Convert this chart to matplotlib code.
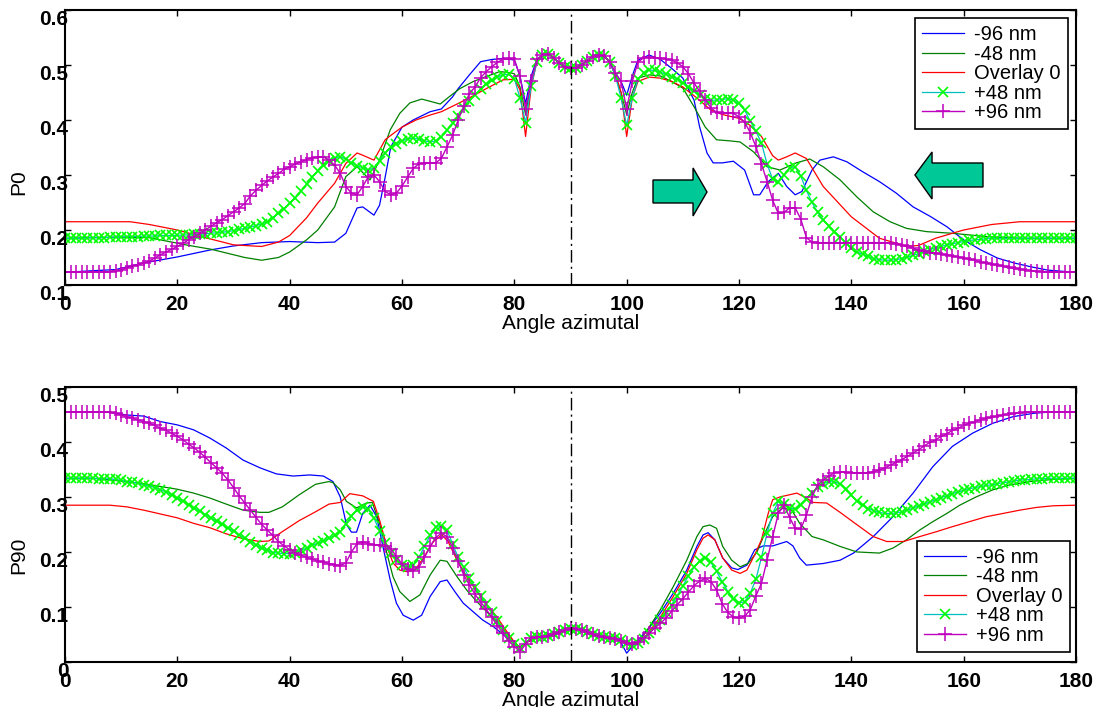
import matplotlib
matplotlib.use('Agg')
import matplotlib.pyplot as plt
from matplotlib.patches import Polygon

plt.rcParams['font.family'] = ['Liberation Sans', 'DejaVu Sans']

# ---------------- data ----------------
LABELS = ['-96 nm', '-48 nm', 'Overlay 0', '+48 nm', '+96 nm']
X_TICKS = [0, 20, 40, 60, 80, 100, 120, 140, 160, 180]
TOP_YTICKS = [0.1, 0.2, 0.3, 0.4, 0.5, 0.6]
TOP_YLABELS = ['0.1', '0.2', '0.3', '0.4', '0.5', '0.6']
BOT_YTICKS = [0.0, 0.1, 0.2, 0.3, 0.4, 0.5]
BOT_YLABELS = ['0', '0.1', '0.2', '0.3', '0.4', '0.5']

ANGLES = list(range(181))

# ---- P0 (top) ----
top_m96_x = [0, 5, 9, 14, 20, 26, 30, 35, 40, 45, 48, 50, 52, 53, 55, 56, 57, 58, 60, 62, 65, 67, 69, 70,
             72, 74, 76, 78, 80, 81, 82, 83, 84, 85, 86, 87, 88, 89, 90, 91, 92, 93, 94, 95, 96, 97, 98,
             99, 100, 101, 102, 104, 106, 108, 110, 112, 113, 114.3, 115.4, 117, 119, 121, 122.6, 123.7,
             125.2, 127, 128.5, 130, 131.2, 133, 134.4, 136.8, 139.2, 142, 145, 148, 151, 154, 157, 160,
             163, 166, 169, 172, 175, 180]
top_m96_y = [.123, .126, .128, .14, .151, .164, .171, .177, .179, .177, .178, .194, .24, .242, .227, .245,
             .296, .351, .387, .4, .415, .42, .442, .457, .482, .506, .51, .512, .509, .48, .43, .48, .51,
             .518, .52, .513, .504, .497, .494, .495, .5, .508, .515, .518, .516, .505, .485, .47, .445,
             .48, .509, .518, .51, .494, .476, .436, .387, .34, .322, .322, .325, .309, .264, .264, .288,
             .303, .279, .264, .27, .309, .327, .333, .324, .306, .288, .267, .242, .225, .206, .182, .164,
             .149, .14, .133, .127, .123]

top_m48_x = [0, 5, 10, 15, 17, 20, 22, 26, 30, 32, 35, 38, 40, 43, 45, 48, 50, 52, 54.3, 56, 57.9, 59.6,
             61.4, 63.5, 65, 66.8, 68.5, 70.3, 72.7, 75, 77.4, 79.2, 80, 81, 82, 83, 84, 85, 86, 87, 88,
             89, 90, 91, 92, 93, 94, 95, 96, 97, 98, 99, 100, 101, 102, 104, 106, 108, 110, 112, 114, 116,
             118.4, 120.2, 122.6, 125, 127.3, 130.2, 132.6, 135, 138, 141, 143.9, 146.9, 149.8, 153.4, 158,
             164, 170, 180]
top_m48_y = [.185, .186, .187, .186, .182, .176, .172, .165, .155, .15, .145, .15, .16, .182, .2, .242,
             .297, .315, .291, .327, .382, .412, .431, .438, .434, .429, .443, .457, .47, .479, .488, .486,
             .484, .46, .41, .47, .508, .518, .52, .513, .504, .497, .494, .495, .5, .508, .515, .518, .516,
             .505, .48, .45, .41, .45, .476, .482, .48, .47, .458, .424, .387, .364, .362, .36, .342, .315,
             .309, .322, .329, .315, .291, .26, .233, .215, .203, .197, .194, .188, .185, .185]

top_ov0_x = [0, 11.6, 15, 20, 25, 30, 35, 38, 40, 43, 45, 48, 50, 52, 53, 55, 57, 58, 60, 62.5, 65, 67, 70,
             72.5, 75, 78, 80, 81, 82, 83, 84, 85, 86, 87, 88, 89, 90, 91, 92, 93, 94, 95, 96, 97, 98, 99,
             100, 101, 102, 104, 106, 108, 110, 112.5, 115, 117, 120, 122, 124, 126, 127, 128.5, 130, 132,
             135, 140, 145, 150, 152, 155, 160, 165, 170, 180]
top_ov0_y = [.215, .215, .21, .2, .186, .173, .17, .178, .19, .222, .249, .285, .321, .34, .336, .327, .364,
             .372, .387, .4, .409, .415, .43, .443, .457, .473, .474, .455, .37, .46, .505, .518, .52, .513,
             .504, .497, .494, .495, .5, .508, .515, .518, .516, .505, .485, .45, .37, .44, .47, .478, .476,
             .47, .46, .44, .418, .41, .403, .39, .37, .335, .327, .333, .34, .33, .279, .224, .185, .17,
             .172, .185, .2, .21, .215, .215]

top_p48 = [.185, .185, .185, .185, .186, .186, .186, .186, .187, .187,
           .187, .188, .188, .188, .189, .189, .189, .19, .19, .19,
           .19, .191, .191, .192, .192, .193, .194, .195, .196, .197,
           .199, .201, .203, .205, .208, .211, .215, .222, .23, .239,
           .249, .259, .27, .283, .296, .308, .318, .326, .331, .333,
           .329, .322, .317, .313, .309, .313, .326, .34, .35, .357,
           .362, .366, .367, .365, .362, .36, .362, .369, .381, .394,
           .408, .422, .435, .446, .456, .465, .472, .478, .482, .483,
           .475, .44, .395, .462, .505, .518, .52, .513, .504, .497,
           .494, .495, .5, .508, .515, .518, .516, .505, .48, .44,
           .39, .44, .474, .486, .491, .49, .487, .483, .479, .475,
           .468, .46, .452, .445, .438, .436, .436, .437, .439, .436,
           .43, .418, .398, .38, .358, .32, .292, .288, .3, .313,
           .315, .298, .272, .25, .232, .219, .207, .197, .188, .177,
           .168, .16, .156, .152, .148, .146, .145, .145, .146, .148,
           .151, .154, .157, .161, .164, .168, .17, .173, .175, .177,
           .179, .181, .182, .183, .184, .185, .185, .185, .185, .185,
           .185, .185, .185, .185, .185, .185, .185, .185, .185, .185, .185]

top_p96 = [.124, .124, .124, .124, .124, .124, .124, .124, .124, .126,
           .127, .131, .134, .137, .14, .144, .149, .155, .16, .165,
           .17, .176, .182, .188, .194, .2, .207, .213, .219, .226,
           .233, .24, .248, .262, .272, .281, .289, .296, .303, .31,
           .315, .32, .324, .328, .331, .333, .333, .327, .318, .303,
           .279, .267, .264, .279, .297, .3, .288, .27, .264, .267,
           .28, .296, .312, .32, .322, .322, .322, .33, .351, .372,
           .4, .425, .448, .46, .477, .488, .497, .505, .51, .512,
           .51, .48, .42, .47, .51, .518, .52, .513, .504, .497,
           .494, .495, .5, .508, .515, .518, .516, .505, .485, .47,
           .42, .47, .505, .513, .514, .513, .512, .511, .509, .504,
           .497, .484, .467, .452, .436, .422, .414, .412, .412, .412,
           .406, .396, .377, .352, .32, .288, .254, .23, .232, .24,
           .24, .22, .186, .178, .177, .177, .177, .177, .177, .177,
           .177, .177, .177, .177, .177, .177, .177, .176, .175, .172,
           .17, .167, .163, .161, .159, .158, .156, .155, .153, .151,
           .149, .147, .145, .142, .14, .138, .136, .134, .132, .13,
           .129, .127, .126, .125, .124, .124, .124, .124, .124, .124, .124]

# ---- P90 (bottom) ----
bot_m96_x = [0, 5, 8, 11, 14, 17, 20, 22.9, 25.8, 28.7, 31.7, 34.7, 37.6, 40.6, 43.6, 46, 47.7, 49, 50.1,
             51, 51.9, 53, 54.3, 55.5, 56.6, 57.9, 59, 60.2, 62, 63.5, 65, 66.8, 68, 69.4, 70.9, 72.7, 74.4,
             76.3, 78, 80, 81, 82, 84, 86, 88, 90, 92, 94, 96, 98, 99, 100, 101, 102.4, 104, 106, 108.3,
             110.7, 112.5, 113.6, 114.5, 115.7, 117.1, 118.7, 119.8, 121.4, 122.8, 124.3, 126, 128.5,
             129.6, 130.8, 132, 135, 138, 140.4, 143.9, 147.4, 151, 154.5, 158, 161.6, 165.2, 168.8,
             172.4, 176, 180]
bot_m96_y = [.455, .455, .454, .449, .447, .437, .431, .422, .407, .389, .367, .353, .342, .338, .34, .338,
             .328, .3, .25, .236, .236, .27, .285, .264, .21, .149, .107, .085, .076, .085, .119, .146,
             .149, .128, .107, .091, .076, .064, .05, .033, .026, .036, .044, .047, .054, .06, .058, .05,
             .045, .043, .035, .016, .028, .044, .062, .089, .125, .167, .21, .231, .235, .222, .189, .171,
             .168, .176, .204, .211, .211, .219, .211, .189, .176, .179, .185, .198, .228, .264, .307,
             .355, .392, .416, .434, .446, .452, .455, .455]

bot_m48_x = [0, 5, 10, 14, 17, 20, 22.9, 25.8, 28.7, 31.7, 34.7, 36.3, 38.7, 41.7, 44.6, 47, 47.7, 49,
             50.1, 51.9, 53.7, 54.7, 56, 57.3, 58.4, 59.6, 61.4, 63.2, 65, 66.8, 68, 69.8, 71.5, 73.3,
             75.1, 76.9, 78, 80, 81, 82, 84, 86, 88, 90, 92, 94, 96, 98, 100, 101, 102.4, 104, 106, 108.3,
             110.7, 112.5, 113.6, 114.8, 116, 117.1, 118.7, 120.2, 121.6, 123.2, 124.6, 126, 127.8, 129.4,
             130.8, 133, 135, 138, 141, 145, 147.4, 149.8, 152.2, 154.5, 157, 159.3, 162.2, 165.2, 168.2,
             171.8, 176, 180]
bot_m48_y = [.334, .334, .329, .324, .319, .314, .307, .298, .287, .276, .272, .272, .282, .304, .323, .328,
             .326, .313, .292, .28, .289, .29, .252, .198, .155, .128, .11, .122, .158, .185, .183, .155,
             .131, .11, .091, .073, .06, .036, .026, .035, .044, .047, .054, .06, .058, .05, .045, .043,
             .032, .03, .04, .063, .095, .137, .185, .228, .246, .249, .243, .21, .185, .173, .179, .2,
             .234, .264, .28, .276, .252, .228, .222, .21, .2, .198, .207, .222, .24, .255, .27, .285, .3,
             .313, .322, .328, .332, .334]

bot_ov0_x = [0, 8, 11, 14, 17, 20, 22.9, 25.8, 28.7, 31.7, 34.7, 36.3, 38.7, 41.7, 44.6, 47, 49, 50.7, 53,
             54.9, 56, 57.3, 58.4, 59.6, 60.9, 62.3, 63.8, 65.6, 67.1, 68.2, 69.8, 71.5, 73.3, 75.1, 76.9,
             78, 80, 81, 82, 84, 86, 88, 90, 92, 94, 96, 98, 100, 101, 102.4, 104, 106, 108.3, 110.7,
             112.5, 113.6, 114.5, 115.7, 117.1, 118.7, 120.2, 121.4, 122.8, 124, 125.2, 126, 127.3, 130.3,
             132, 133.2, 135.6, 138, 140.4, 143.9, 146.3, 149.3, 152.2, 155.2, 158, 161, 164, 167, 170,
             173, 176, 180]
bot_ov0_y = [.285, .285, .282, .276, .269, .262, .252, .244, .233, .224, .219, .22, .237, .257, .273, .287,
             .29, .306, .302, .292, .258, .21, .18, .167, .164, .167, .189, .219, .231, .219, .185, .155,
             .128, .104, .082, .065, .036, .025, .035, .044, .047, .054, .06, .058, .05, .045, .043, .033,
             .03, .035, .055, .082, .119, .161, .204, .225, .231, .222, .189, .167, .161, .167, .195, .222,
             .27, .295, .3, .307, .298, .29, .289, .272, .254, .228, .219, .219, .228, .237, .246, .255,
             .264, .27, .276, .281, .284, .285]

bot_p48 = [.334, .334, .334, .334, .334, .334, .333, .333, .333, .332,
           .33, .328, .327, .325, .322, .32, .317, .313, .309, .304,
           .298, .292, .286, .28, .274, .268, .262, .256, .25, .244,
           .238, .231, .225, .219, .213, .207, .203, .199, .198, .197,
           .197, .199, .203, .207, .212, .216, .22, .225, .23, .237,
           .25, .265, .276, .282, .278, .262, .238, .216, .198, .186,
           .177, .173, .176, .19, .21, .23, .246, .248, .24, .215,
           .19, .172, .152, .136, .12, .105, .091, .075, .058, .043,
           .032, .025, .034, .043, .045, .046, .048, .051, .055, .058,
           .06, .06, .058, .055, .051, .048, .046, .044, .043, .04,
           .035, .03, .034, .042, .052, .063, .076, .09, .104, .12,
           .138, .157, .172, .184, .189, .181, .165, .146, .128, .115,
           .108, .109, .125, .15, .19, .234, .27, .292, .288, .28,
           .278, .286, .297, .307, .318, .324, .328, .327, .324, .315,
           .303, .292, .285, .279, .275, .272, .27, .27, .271, .273,
           .276, .28, .284, .287, .291, .295, .299, .302, .306, .309,
           .312, .315, .317, .319, .321, .322, .324, .326, .327, .329,
           .331, .331, .332, .333, .333, .334, .334, .334, .334, .334, .334]

bot_p96 = [.455, .455, .455, .455, .455, .455, .455, .455, .454, .452,
           .449, .446, .443, .44, .437, .434, .43, .425, .421, .416,
           .41, .404, .396, .389, .381, .372, .362, .353, .343, .331,
           .317, .302, .289, .276, .263, .25, .24, .23, .219, .211,
           .204, .198, .194, .19, .187, .184, .181, .179, .177, .175,
           .18, .2, .215, .219, .215, .213, .213, .211, .206, .192,
           .178, .169, .166, .172, .19, .21, .226, .234, .228, .208,
           .183, .158, .14, .123, .109, .096, .081, .066, .052, .038,
           .028, .019, .032, .043, .045, .046, .048, .051, .054, .058,
           .061, .06, .058, .055, .05, .047, .045, .044, .042, .039,
           .034, .033, .036, .043, .052, .062, .07, .08, .092, .104,
           .115, .127, .139, .147, .152, .146, .131, .106, .09, .082,
           .08, .083, .095, .12, .143, .185, .228, .27, .285, .263,
           .243, .242, .267, .3, .322, .331, .338, .344, .345, .345,
           .344, .344, .344, .344, .346, .349, .353, .358, .363, .368,
           .374, .38, .386, .393, .399, .404, .41, .415, .421, .425,
           .43, .434, .437, .44, .443, .445, .447, .449, .45, .452,
           .453, .454, .454, .455, .455, .455, .455, .455, .455, .455, .455]

# ---------------- styles ----------------
C_BLUE = '#0000ff'
C_DGREEN = '#008000'
C_RED = '#ff0000'
C_CYAN = '#00bfbf'
C_LIME = '#00ff00'
C_MAG = '#bf00bf'
ARROW_COL = '#00c896'
FS_TICK = 15
FS_LABEL = 15
FS_LEG = 14.5

fig = plt.figure(figsize=(11.02, 7.07), dpi=100)
ax1 = fig.add_axes([0.059, 0.5969, 0.9174, 0.389])
ax2 = fig.add_axes([0.059, 0.0637, 0.9174, 0.389])


def draw(ax, m96, m48, ov0, p48, p96):
    h = []
    h += ax.plot(m96[0], m96[1], color=C_BLUE, lw=0.9)
    h += ax.plot(m48[0], m48[1], color=C_DGREEN, lw=0.9)
    h += ax.plot(ov0[0], ov0[1], color=C_RED, lw=0.9)
    h += ax.plot(ANGLES, p48, color=C_CYAN, lw=0.9, marker='x', ms=6.5,
                 mec=C_LIME, mfc=C_LIME, mew=1.2)
    h += ax.plot(ANGLES, p96, color=C_MAG, lw=1.0, marker='+', ms=10.5,
                 mec=C_MAG, mew=1.1)
    ax.axvline(90, color='k', ls=(0, (9, 3, 1.5, 3)), lw=1.0)
    return h


def style(ax, yticks, ylabels, ylim, ylabel, label_y):
    ax.set_xlim(0, 180)
    ax.set_ylim(*ylim)
    ax.set_xticks(X_TICKS)
    ax.set_xticklabels([str(t) for t in X_TICKS], fontweight='bold')
    ax.set_yticks(yticks)
    ax.set_yticklabels(ylabels, fontweight='bold')
    ax.tick_params(direction='in', top=True, right=True, length=4.5, width=1,
                   labelsize=FS_TICK)
    ax.tick_params(axis='x', pad=7.5)
    ax.tick_params(axis='y', pad=-2.5)
    for lab in ax.get_yticklabels():
        lab.set_va('top')
    for s in ax.spines.values():
        s.set_linewidth(1.5)
    ax.set_xlabel('Angle azimutal', fontsize=FS_LABEL, labelpad=0)
    ax.set_ylabel(ylabel, fontsize=FS_LABEL)
    ax.yaxis.set_label_coords(-0.036, label_y)


h1 = draw(ax1, (top_m96_x, top_m96_y), (top_m48_x, top_m48_y), (top_ov0_x, top_ov0_y), top_p48, top_p96)
style(ax1, TOP_YTICKS, TOP_YLABELS, (0.1, 0.6), 'P0', 0.375)
h2 = draw(ax2, (bot_m96_x, bot_m96_y), (bot_m48_x, bot_m48_y), (bot_ov0_x, bot_ov0_y), bot_p48, bot_p96)
style(ax2, BOT_YTICKS, BOT_YLABELS, (0.0, 0.5), 'P90', 0.389)

leg_kw = dict(fontsize=FS_LEG, numpoints=1, frameon=True, fancybox=False, shadow=False,
              borderaxespad=0, borderpad=0.35, labelspacing=0.03, handlelength=2.1,
              handletextpad=0.5, framealpha=1)
lg1 = ax1.legend(h1, LABELS, loc='upper right', bbox_to_anchor=(0.992, 0.971), **leg_kw)
lg2 = ax2.legend(h2, LABELS, loc='lower right', bbox_to_anchor=(0.994, 0.036), **leg_kw)
for lg in (lg1, lg2):
    lg.get_frame().set_edgecolor('k')
    lg.get_frame().set_linewidth(1.2)

# block arrows (annotations, axes-fraction coordinates)
right_arrow = [(0.5816, 0.3818), (0.6212, 0.3818), (0.6212, 0.4255), (0.635, 0.3382),
               (0.6212, 0.2509), (0.6212, 0.2982), (0.5816, 0.2982)]
left_arrow = [(0.908, 0.4436), (0.8576, 0.4436), (0.8576, 0.4836), (0.8407, 0.4),
              (0.8576, 0.3127), (0.8576, 0.3564), (0.908, 0.3564)]
for pts in (right_arrow, left_arrow):
    ax1.add_patch(Polygon(pts, closed=True, transform=ax1.transAxes, facecolor=ARROW_COL,
                          edgecolor='k', lw=1.0, zorder=5))

fig.savefig('out.png', dpi=100)
